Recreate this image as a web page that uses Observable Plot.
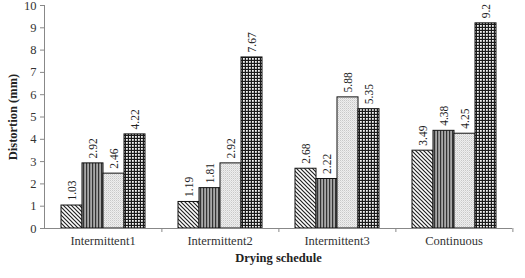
<!DOCTYPE html>
<html><head><meta charset="utf-8">
<script src="https://cdn.jsdelivr.net/npm/d3@7"></script>
<script src="https://cdn.jsdelivr.net/npm/@observablehq/plot@0.6"></script>
<style>body{margin:0;background:#fff}</style>
</head><body>
<svg width="0" height="0" style="position:absolute">
<defs>
<pattern id="pDiag" width="4" height="4" patternUnits="userSpaceOnUse">
<rect width="4" height="4" fill="#fff"/>
<path d="M-1,-1 L5,5 M-1,3 L1,5 M3,-1 L5,1" stroke="#222" stroke-width="1.2"/>
</pattern>
<pattern id="pVert" width="3" height="3" patternUnits="userSpaceOnUse">
<rect width="3" height="3" fill="#a8a8a8"/>
<rect x="0" width="1.2" height="3" fill="#333"/>
</pattern>
<pattern id="pDot" width="2" height="2" patternUnits="userSpaceOnUse">
<rect width="2" height="2" fill="#eeeeee"/>
<rect width="1" height="1" fill="#c8c8c8"/>
<rect x="1" y="1" width="1" height="1" fill="#dcdcdc"/>
</pattern>
<pattern id="pCheck" width="3" height="3" patternUnits="userSpaceOnUse">
<rect width="3" height="3" fill="#1a1a1a"/>
<rect x="1" y="1" width="1.8" height="1.8" fill="#f4f4f4"/>
</pattern>
</defs>
</svg>
<div id="chart"></div>
<script>
const groups = ["Intermittent1", "Intermittent2", "Intermittent3", "Continuous"];
const series = ["Series 1", "Series 2", "Series 3", "Series 4"];
const s1 = [1.03, 1.19, 2.68, 3.49];
const s2 = [2.92, 1.81, 2.22, 4.38];
const s3 = [2.46, 2.92, 5.88, 4.25];
const s4 = [4.22, 7.67, 5.35, 9.2];
const yTicks = [0, 1, 2, 3, 4, 5, 6, 7, 8, 9, 10];
const fills = ["url(#pDiag)", "url(#pVert)", "url(#pDot)", "url(#pCheck)"];

const allValues = [s1, s2, s3, s4];
const rows = [];
groups.forEach((g, gi) => series.forEach((s, si) => rows.push({group: g, series: s, value: allValues[si][gi]})));

const W = 525, H = 278, ML = 42, MR = 12;
const band = (W - ML - MR) / groups.length;

const chart = Plot.plot({
  width: W, height: H,
  marginLeft: ML, marginRight: MR, marginTop: 5, marginBottom: 50,
  style: {fontFamily: "'Liberation Serif', serif", fontSize: "12px", color: "#333", background: "#fff"},
  fx: {domain: groups, padding: 0, label: null},
  x: {domain: series, paddingInner: 0, paddingOuter: 0.74, axis: null},
  y: {domain: [0, 10]},
  marks: [
    ...series.map((s, i) => Plot.barY(rows.filter(d => d.series === s), {
      fx: "group", x: "series", y: "value", fill: fills[i], stroke: "#111", strokeWidth: 1, inset: 0
    })),
    Plot.text(rows, {
      fx: "group", x: "series", y: "value", text: d => String(d.value),
      rotate: -90, textAnchor: "start", dy: -5, fontSize: 11.5, fill: "#222"
    }),
    Plot.ruleY([0], {stroke: "#888"}),
    Plot.axisY({ticks: yTicks, tickSize: 4, tickPadding: 4, stroke: "#888", fontSize: 12.5, label: "Distortion (mm)", labelAnchor: "center", labelArrow: "none", labelOffset: 36}),
    Plot.frame({anchor: "left", stroke: "#888", facetAnchor: "left"}),
    Plot.axisFx({anchor: "bottom", tickSize: 0, tickPadding: 8, fontSize: 12.5, label: "Drying schedule", labelAnchor: "center", labelArrow: "none", labelOffset: 33}),
    Plot.axisFx({anchor: "bottom", text: null, tickSize: 4, stroke: "#888", dx: band / 2, label: null})
  ]
});
document.getElementById("chart").appendChild(chart);
d3.select(chart).selectAll('[aria-label="y-axis label"] text, [aria-label="fx-axis label"] text, [aria-label="y-axis label"], [aria-label="fx-axis label"]')
  .attr("font-weight", "bold").attr("fill", "#222");
</script>
</body></html>
